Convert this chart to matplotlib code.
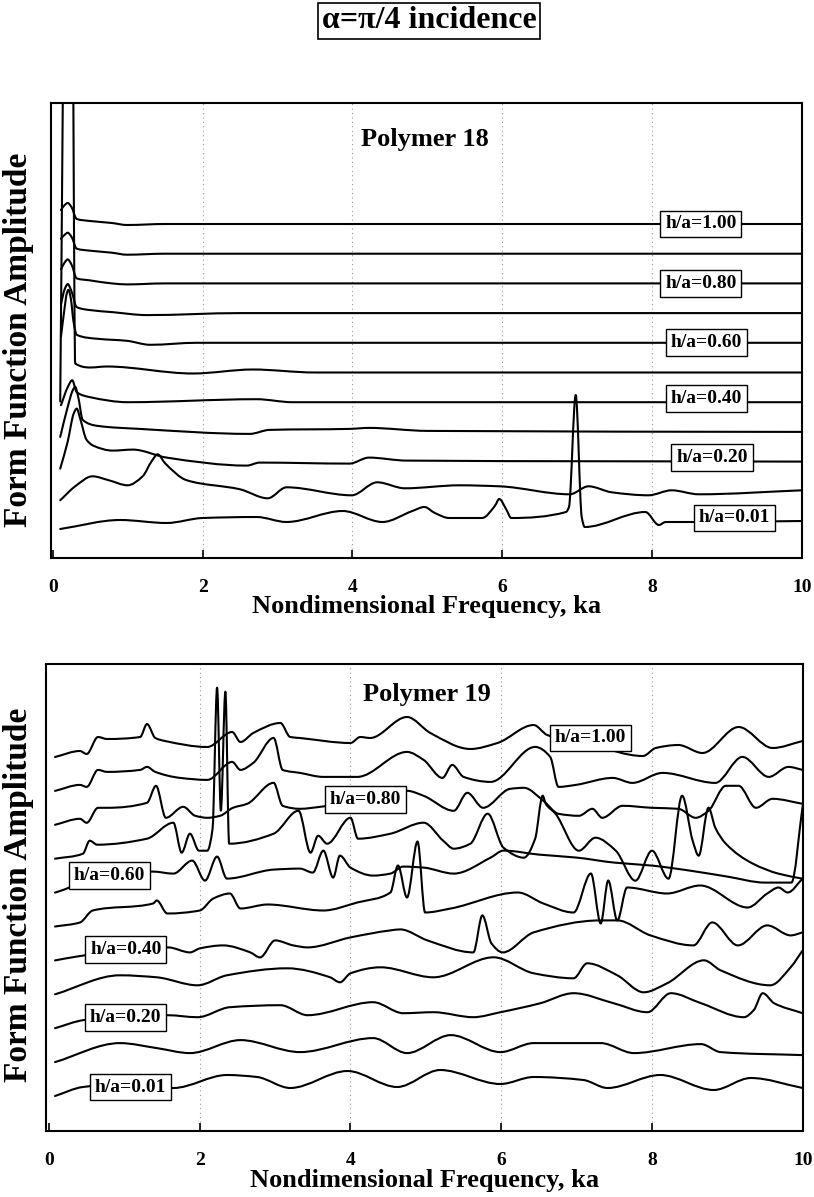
import matplotlib
matplotlib.use("Agg")
import matplotlib.pyplot as plt
from matplotlib.path import Path
from matplotlib.patches import PathPatch

plt.rcParams['font.family'] = ['Liberation Serif', 'DejaVu Serif']
plt.rcParams['font.weight'] = 'bold'

h_over_a = ["1.00", "0.90", "0.80", "0.70", "0.60", "0.50", "0.40", "0.30", "0.20", "0.10", "0.01"]
x_ticks = [0, 2, 4, 6, 8, 10]

# ---------------- Polymer 18 (amplitude above each curve's own baseline) ----------------
p18_100_ka = [0.11, 0.16, 0.20, 0.25, 0.32, 0.5, 0.79, 0.99, 1.5, 10]
p18_100_amp = [14, 19, 21, 17, 5, 3, 1, -1, 0, 0]
p18_090_ka = [0.11, 0.16, 0.20, 0.25, 0.32, 0.5, 0.79, 0.99, 1.5, 10]
p18_090_amp = [15, 19, 21, 17, 5, 3, 1, -1, 0, 0]
p18_080_ka = [0.11, 0.16, 0.20, 0.25, 0.32, 0.5, 0.79, 0.99, 1.5, 10]
p18_080_amp = [14, 21, 24, 19, 5, 3, 0, -1, 0, 0]
p18_070_ka = [0.11, 0.16, 0.20, 0.25, 0.32, 0.5, 0.79, 1.26, 2.5, 10]
p18_070_amp = [9, 24, 29, 22, 6, 3, 1, -2, 0, 0]
p18_060_ka = [0.11, 0.15, 0.19, 0.21, 0.24, 0.28, 0.32, 0.6, 0.99, 1.30, 1.92, 10]
p18_060_amp = [6, 30, 50, 53, 45, 20, 8, 4, 2, -2, 0, 0]
p18_050_ka = [0.10, 0.17, 0.255, 0.30, 0.5, 0.72, 1.87, 2.67, 3.5, 10]
p18_050_amp = [-29, 470, 470, 9, 5, 6, -1, 3, 0, 0]
p18_040_ka = [0.11, 0.2, 0.26, 0.32, 0.5, 1.0, 2.72, 3.2, 10]
p18_040_amp = [-3, 15, 22, 10, 5, 0, 3, 0, 0]
p18_030_ka = [0.10, 0.2, 0.27, 0.30, 0.34, 0.40, 0.6, 1.16, 2.63, 2.89, 3.96, 4.22, 5.0, 10]
p18_030_amp = [-5, 25, 42, 45, 35, 12, 6, 3, -2, 2, 3, 4, 1, 0]
p18_020_ka = [0.10, 0.2, 0.28, 0.32, 0.37, 0.45, 0.54, 0.8, 1.07, 1.52, 2.59, 2.76, 3.96, 4.22, 4.72, 10]
p18_020_amp = [-7, 20, 48, 53, 42, 22, 16, 11, 12, 4, -4, -1, -2, 4, 1, 0]
p18_010_ka = [0.10, 0.3, 0.53, 0.75, 1.0, 1.2, 1.32, 1.40, 1.5, 1.79, 2.5, 2.87, 3.12, 3.99, 4.33,
              4.7, 5.43, 5.96, 6.9, 7.15, 7.46, 7.95, 8.26, 8.62, 10]
p18_010_amp = [-9, 5, 15, 11, 6, 15, 30, 37, 28, 11, 2, -7, 4, -4, 9, 3, 6, 5, -3, 5, -1, -4, 1, -3, 1]
p18_001_ka = [0.10, 0.9, 1.52, 2.0, 2.72, 3.12, 3.87, 4.40, 4.8, 4.96, 5.1, 5.29, 5.73, 5.9, 5.96,
              6.05, 6.12, 6.85, 6.89, 6.98, 7.06, 7.1, 7.91, 8.09, 8.18, 8.53, 10]
p18_001_amp = [-8, 1, -2, 3, 4, -1, 10, -1, 10, 14, 8, 3, 3, 15, 22, 12, 3, 9, 14, 126, 4, -6,
               9, -4, -1, -1, 0]

# ---------------- Polymer 19 ----------------
p19_100_ka = [0.08, 0.41, 0.50, 0.65, 0.77, 1.21, 1.30, 1.41, 1.54, 2.10, 2.43, 2.54, 2.71, 3.07, 3.20,
              3.33, 4.0, 4.13, 4.26, 4.75, 5.06, 5.59, 5.95, 6.43, 6.61, 7.2, 7.88, 8.05, 8.35, 8.67,
              9.15, 9.6, 10.0]
p19_100_amp = [0, 6, 3, 20, 18, 20, 33, 19, 16, 10, 25, 15, 24, 34, 20, 19, 14, 20, 19, 40, 24, 8, 14,
               32, 22, 12, 1, 9, 12, 4, 30, 9, 16]
p19_090_ka = [0.08, 0.41, 0.50, 0.65, 0.77, 1.21, 1.30, 1.41, 1.74, 2.10, 2.43, 2.54, 2.71, 2.98, 3.10,
              3.33, 3.64, 4.09, 4.75, 4.97, 5.22, 5.35, 5.50, 5.86, 6.45, 6.65, 6.76, 6.99, 7.48, 7.74,
              8.14, 8.84, 9.2, 9.55, 9.81, 10.0]
p19_090_amp = [0, 6, 4, 21, 19, 21, 24, 19, 13, 11, 29, 21, 28, 53, 21, 18, 14, 14, 39, 31, 13, 26, 14,
               9, 44, 34, 4, 6, 13, 8, 18, 8, 34, 14, 24, 21]
p19_080_ka = [0.08, 0.41, 0.50, 0.65, 0.77, 1.30, 1.42, 1.55, 1.78, 1.94, 2.10, 2.27, 2.44, 2.63, 2.98,
              3.10, 3.33, 3.6, 4.2, 4.75, 4.97, 5.37, 5.55, 5.76, 6.12, 6.30, 6.56, 6.76, 7.03, 7.21,
              7.34, 7.61, 8.0, 8.35, 8.58, 8.75, 8.98, 9.15, 9.38, 9.6, 10.0]
p19_080_amp = [0, 6, 2, 17, 17, 22, 39, 7, 18, 9, 7, 9, 17, 21, 42, 19, 16, 18, 25, 34, 29, 14, 32, 17,
               36, 37, 24, 11, 9, 16, 7, 19, 17, 16, 7, 14, 39, 39, 17, 26, 21]
p19_070_ka = [0.08, 0.45, 0.54, 0.64, 1.30, 1.65, 1.76, 1.87, 1.99, 2.10, 2.17, 2.23, 2.28, 2.34, 2.39,
              2.98, 3.31, 3.47, 3.57, 3.69, 4.0, 4.1, 4.53, 4.97, 5.23, 5.37, 5.59, 5.82, 6.03, 6.3,
              6.45, 6.55, 6.59, 6.72, 7.03, 7.25, 7.52, 7.78, 8.0, 8.22, 8.4, 8.54, 8.62, 8.75, 8.84,
              8.98, 9.34, 9.68, 10.0]
p19_070_amp = [0, 5, 18, 14, 20, 36, 6, 25, 8, 8, 30, 171, 48, 167, 15, 25, 48, 6, 23, 15, 41, 20, 25,
               36, 18, 10, 15, 45, 11, 1, 20, 63, 55, 45, 8, 21, 8, -22, 8, -20, 63, 18, 3, 51, 31,
               15, -5, -15, -20]
p19_060_ka = [0.08, 0.2, 0.5, 1.0, 1.38, 1.65, 1.9, 2.07, 2.23, 2.36, 2.98, 3.33, 3.5, 3.64, 3.77, 3.86,
              4.0, 4.3, 4.53, 4.7, 4.97, 5.37, 5.86, 6.03, 6.5, 7.0, 7.5, 8.0, 8.5, 9.0, 9.5, 9.85,
              10.0]
p19_060_amp = [0, 3, 12, 18, 21, 19, 32, 12, 36, 14, 23, 24, 20, 42, 15, 37, 25, 17, 19, 26, 25, 19, 35,
               42, 38, 35, 30, 27, 22, 16, 10, 10, 87]
p19_050_ka = [0.08, 0.41, 0.58, 1.38, 1.43, 1.57, 2.0, 2.18, 2.4, 2.54, 2.9, 3.64, 4.09, 4.53, 4.63,
              4.75, 4.89, 4.99, 5.33, 6.22, 6.56, 6.96, 7.19, 7.32, 7.42, 7.54, 7.67, 8.2, 8.64,
              9.27, 9.53, 9.68, 9.8, 10.0]
p19_050_amp = [0, 4, 16, 23, 26, 13, 16, 28, 33, 18, 22, 16, 24, 34, 61, 29, 85, 14, 18, 34, 23, 14,
               53, 3, 46, 6, 39, 33, 41, 19, 33, 39, 34, 48]
p19_040_ka = [0.08, 0.38, 1.0, 1.58, 1.87, 2.0, 2.31, 2.67, 2.8, 3.0, 3.24, 3.43, 4.0, 4.53, 4.66, 5.02,
              5.63, 5.75, 5.87, 6.02, 6.43, 7.32, 7.54, 7.98, 8.55, 8.8, 9.14, 9.53, 9.84, 10.0]
p19_040_amp = [0, 4, 10, 13, 8, 12, 15, 8, 3, 20, 15, 13, 23, 30, 31, 20, 8, 45, 17, 8, 28, 40, 40, 25,
               15, 38, 15, 35, 25, 28]
p19_030_ka = [0.08, 0.94, 1.43, 1.97, 2.36, 3.16, 3.73, 3.86, 4.0, 4.4, 5.1, 5.9, 6.43, 6.96, 7.14,
              7.54, 7.89, 8.2, 8.69, 8.91, 9.57, 9.84, 10.0]
p19_030_amp = [0, 19, 17, 9, 19, 26, 17, 12, 21, 27, 17, 37, 21, 16, 31, 19, 2, 11, 34, 24, 9, 27, 44]
p19_020_ka = [0.08, 0.45, 1.0, 1.57, 1.97, 2.4, 3.07, 3.43, 4.3, 4.7, 5.1, 5.63, 5.99, 6.52, 6.96, 7.49,
              7.94, 8.25, 8.65, 9.22, 9.35, 9.47, 9.62, 10.0]
p19_020_amp = [0, 8, 12, 13, 11, 21, 23, 13, 26, 15, 16, 11, 16, 25, 35, 25, 16, 35, 25, 11, 18, 35,
               25, 15]
p19_010_ka = [0.08, 0.94, 1.43, 1.87, 2.54, 3.33, 4.3, 4.75, 5.33, 5.99, 6.43, 7.32, 7.76, 8.65, 8.91,
              10.0]
p19_010_amp = [0, 19, 14, 9, 22, 10, 24, 9, 27, 10, 19, 19, 9, 18, 10, 7]
p19_001_ka = [0.08, 0.45, 1.0, 1.65, 2.36, 2.76, 3.2, 3.96, 4.62, 5.19, 5.99, 6.43, 7.09, 7.41, 8.11,
              8.82, 9.31, 10.0]
p19_001_amp = [0, 9, 12, 8, 21, 19, 8, 25, 9, 26, 12, 19, 16, 8, 21, 6, 18, 8]

# tables built from the named series (top curve first)
p18_ka = [p18_100_ka, p18_090_ka, p18_080_ka, p18_070_ka, p18_060_ka, p18_050_ka,
          p18_040_ka, p18_030_ka, p18_020_ka, p18_010_ka, p18_001_ka]
p18_amp = [p18_100_amp, p18_090_amp, p18_080_amp, p18_070_amp, p18_060_amp, p18_050_amp,
           p18_040_amp, p18_030_amp, p18_020_amp, p18_010_amp, p18_001_amp]
p19_ka = [p19_100_ka, p19_090_ka, p19_080_ka, p19_070_ka, p19_060_ka, p19_050_ka,
          p19_040_ka, p19_030_ka, p19_020_ka, p19_010_ka, p19_001_ka]
p19_amp = [p19_100_amp, p19_090_amp, p19_080_amp, p19_070_amp, p19_060_amp, p19_050_amp,
           p19_040_amp, p19_030_amp, p19_020_amp, p19_010_amp, p19_001_amp]


def smooth_path(xs, ys):
    """Cubic Bezier path through the given points (monotone Hermite tangents, no overshoot)."""
    k = len(xs)
    h = [xs[i + 1] - xs[i] for i in range(k - 1)]
    d = [(ys[i + 1] - ys[i]) / h[i] for i in range(k - 1)]
    m = [0.0] * k
    m[0], m[-1] = d[0], d[-1]
    for i in range(1, k - 1):
        if d[i - 1] * d[i] <= 0:
            m[i] = 0.0
        else:
            w1 = 2 * h[i] + h[i - 1]
            w2 = h[i] + 2 * h[i - 1]
            m[i] = (w1 + w2) / (w1 / d[i - 1] + w2 / d[i])
    verts = [(xs[0], ys[0])]
    codes = [Path.MOVETO]
    for i in range(k - 1):
        t = h[i] / 3.0
        verts += [(xs[i] + t, ys[i] + m[i] * t), (xs[i + 1] - t, ys[i + 1] - m[i + 1] * t),
                  (xs[i + 1], ys[i + 1])]
        codes += [Path.CURVE4] * 3
    return Path(verts, codes)


W, H = 814, 1197
fig = plt.figure(figsize=(W / 100, H / 100), dpi=100)
fig.patch.set_facecolor('white')

box = dict(boxstyle='square,pad=0.25', facecolor='white', edgecolor='black', linewidth=1.0)


def setup(ax, xlim, ylim):
    ax.set_xlim(*xlim)
    ax.set_ylim(*ylim)
    ax.set_yticks([])
    ax.set_xticks(x_ticks)
    ax.set_xticklabels([str(t) for t in x_ticks], fontsize=14, fontweight='bold')
    ax.tick_params(axis='x', direction='in', length=6, width=1.2, pad=15)
    for s in ax.spines.values():
        s.set_linewidth(1.5)
    for t in x_ticks[1:-1]:
        ax.axvline(t, color='#9a9a9a', lw=0.8, linestyle=(0, (1, 3)), zorder=0)
    ax.set_xlabel('Nondimensional Frequency, ka', fontsize=19, fontweight='bold')


def draw_curve(ax, xs, ys):
    ax.add_patch(PathPatch(smooth_path(xs, ys), facecolor='none', edgecolor='black',
                           lw=1.5, zorder=2, capstyle='round', joinstyle='round'))


# ---------- top panel: Polymer 18 ----------
ax1 = fig.add_axes([51 / W, 1 - 557.7 / H, (802 - 51) / W, (557.7 - 102.7) / H])
setup(ax1, (-0.023, 9.98), (0, 455))
n = len(h_over_a)
p18_base0, p18_step = 36.7, 29.7
p18_label_ka = {"1.00": 8.65, "0.80": 8.65, "0.60": 8.72, "0.40": 8.72, "0.20": 8.8, "0.01": 9.1}
p18_label_dy = {"1.00": 0, "0.80": 0, "0.60": 0, "0.40": 4, "0.20": 4, "0.01": 3}
for i, h in enumerate(h_over_a):
    off = p18_base0 + p18_step * (n - 1 - i)
    draw_curve(ax1, p18_ka[i], [a + off for a in p18_amp[i]])
    if h in p18_label_ka:
        ax1.text(p18_label_ka[h], off + p18_label_dy[h], f'h/a={h}', fontsize=14, fontweight='bold',
                 ha='center', va='center', bbox=box, zorder=5)
ax1.text(4.97, 455 - (140 - 102.7), 'Polymer 18', fontsize=19, fontweight='bold',
         ha='center', va='center')
ax1.xaxis.set_label_coords(0.5, -37 / 455)

# ---------- bottom panel: Polymer 19 ----------
ax2 = fig.add_axes([46 / W, 1 - 1131 / H, (802.7 - 46) / W, (1131 - 664) / H])
setup(ax2, (-0.04, 10.0), (0, 467))
p19_base0, p19_step = 35, 33.9
p19_labels = {"1.00": (7.18, 19), "0.80": (4.2, 25), "0.60": (0.80, 17),
              "0.40": (1.02, 11), "0.20": (1.01, 11), "0.01": (1.08, 9)}
for i, h in enumerate(h_over_a):
    off = p19_base0 + p19_step * (n - 1 - i)
    draw_curve(ax2, p19_ka[i], [a + off for a in p19_amp[i]])
    if h in p19_labels:
        lx, dy = p19_labels[h]
        ax2.text(lx, off + dy, f'h/a={h}', fontsize=14, fontweight='bold',
                 ha='center', va='center', bbox=box, zorder=5)
ax2.text(5.02, 467 - (695 - 664), 'Polymer 19', fontsize=19, fontweight='bold',
         ha='center', va='center')
ax2.xaxis.set_label_coords(0.5, -38 / 467)

# y labels and title
fig.text(19 / W, 1 - 340 / H, 'Form Function Amplitude', rotation=90, fontsize=24,
         fontweight='bold', ha='center', va='center')
fig.text(19 / W, 1 - 895 / H, 'Form Function Amplitude', rotation=90, fontsize=24,
         fontweight='bold', ha='center', va='center')
fig.text(429 / W, 1 - 21 / H, 'α=π/4 incidence', fontsize=23, fontweight='bold',
         ha='center', va='center',
         bbox=dict(boxstyle='square,pad=0.12', facecolor='white', edgecolor='black', linewidth=1.2))

fig.savefig('out.png', dpi=100, facecolor='white')
